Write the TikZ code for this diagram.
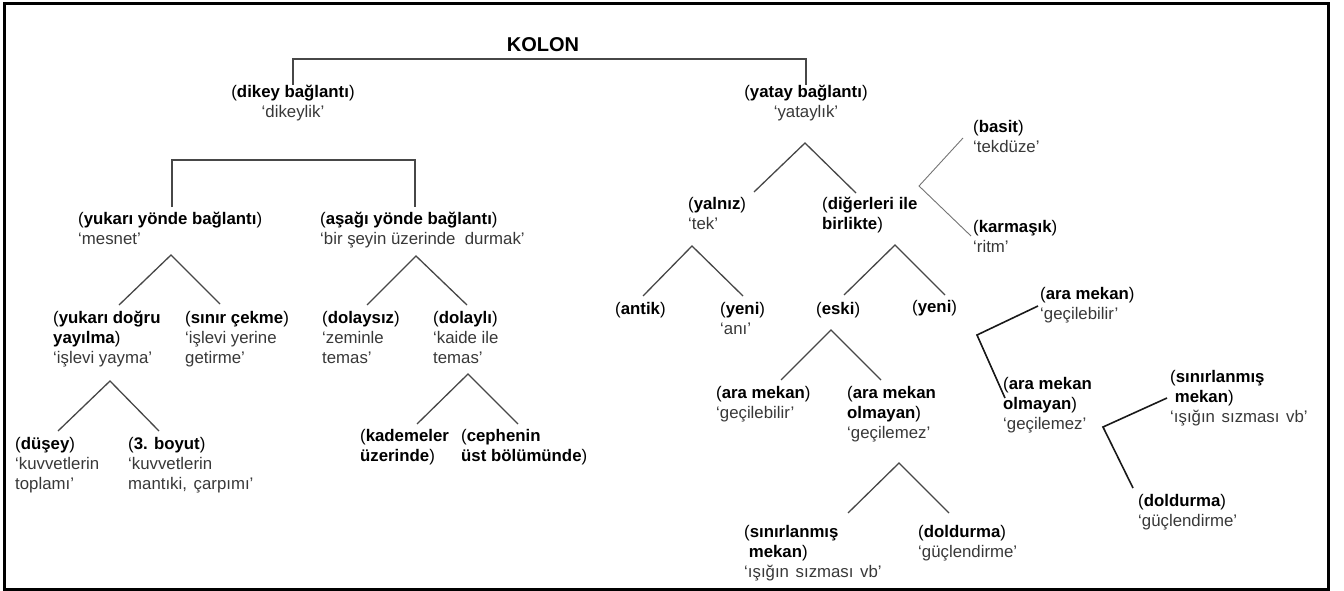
\documentclass[tikz,border=0pt]{standalone}
\usepackage{fontspec}
\setmainfont{Liberation Sans}
\newcommand{\lbltab}[1]{\begin{tabular}[t]{@{}l@{}}#1\end{tabular}}
\newcommand{\ctrtab}[1]{\begin{tabular}[t]{@{}c@{}}#1\end{tabular}}
\newcommand{\sub}[1]{{\color{black!78}#1}}
\newcommand{\wsp}{\ \kern2pt}
\tikzset{
  lbl/.style={anchor=base west, inner sep=0pt, font=\fontsize{16.8}{20}\selectfont},
  clbl/.style={anchor=base, inner sep=0pt, font=\fontsize{16.8}{20}\selectfont},
  conn/.style={draw=black!72, line width=1.3pt},
  thin/.style={draw=black!55, line width=0.9pt},
  dark/.style={draw=black!90, line width=1.6pt},
}
\begin{document}
\begin{tikzpicture}[x=1pt,y=-1pt]
\useasboundingbox (0,0) rectangle (1344,591);
\draw[line width=3pt] (4,4) rectangle (1328,589);

\node[anchor=base, inner sep=0pt, font=\fontsize{20}{24}\selectfont\bfseries] (kolon) at (543,52) {KOLON};

% top level
\node[clbl] (dikey) at (293,98) {\ctrtab{(\textbf{dikey bağlantı})\\ \sub{‘dikeylik’}}};
\node[clbl] (yatay) at (806,98) {\ctrtab{(\textbf{yatay bağlantı})\\ \sub{‘yataylık’}}};
\coordinate (b1l) at (293,59);
\coordinate (b1r) at (806,59);
\coordinate (b1ld) at (293,85);
\coordinate (b1rd) at (806,85);
\draw[conn] (b1ld) -- (b1l) -- (b1r) -- (b1rd);

% second level left
\node[lbl] (yukari) at (78,224) {\lbltab{(\textbf{yukarı yönde bağlantı})\\ \sub{‘mesnet’}}};
\node[lbl] (asagi) at (320,224) {\lbltab{(\textbf{aşağı yönde bağlantı})\\ \sub{‘bir şeyin üzerinde\ \ durmak’}}};
\coordinate (b2l) at (172,160);
\coordinate (b2r) at (415,160);
\coordinate (b2ld) at (172,207);
\coordinate (b2rd) at (415,207);
\draw[conn] (b2ld) -- (b2l) -- (b2r) -- (b2rd);

% yukari tree
\coordinate (t1a) at (171,255);
\coordinate (t1l) at (119,305);
\coordinate (t1r) at (220,304);
\draw[conn] (t1l) -- (t1a) -- (t1r);
\node[lbl] (yukdogru) at (53,323) {\lbltab{(\textbf{yukarı doğru}\\ \textbf{yayılma})\\ \sub{‘işlevi yayma’}}};
\node[lbl] (sinir) at (185,323) {\lbltab{(\textbf{sınır çekme})\\ \sub{‘işlevi yerine}\\ \sub{getirme’}}};

% asagi tree
\coordinate (t2a) at (416,256);
\coordinate (t2l) at (367,305);
\coordinate (t2r) at (467,305);
\draw[conn] (t2l) -- (t2a) -- (t2r);
\node[lbl] (dolaysiz) at (322,323) {\lbltab{(\textbf{dolaysız})\\ \sub{‘zeminle}\\ \sub{temas’}}};
\node[lbl] (dolayli) at (433,323) {\lbltab{(\textbf{dolaylı})\\ \sub{‘kaide ile}\\ \sub{temas’}}};

% yukdogru tree
\coordinate (t3a) at (110,381);
\coordinate (t3l) at (58,431);
\coordinate (t3r) at (159,431);
\draw[conn] (t3l) -- (t3a) -- (t3r);
\node[lbl] (dusey) at (15,449) {\lbltab{(\textbf{düşey})\\ \sub{‘kuvvetlerin}\\ \sub{toplamı’}}};
\node[lbl] (boyut) at (128,449) {\lbltab{(\textbf{3. boyut})\\ \sub{‘kuvvetlerin}\\ \sub{mantıki,\wsp çarpımı’}}};

% dolayli tree
\coordinate (t4a) at (468,374);
\coordinate (t4l) at (417,424);
\coordinate (t4r) at (518,424);
\draw[conn] (t4l) -- (t4a) -- (t4r);
\node[lbl] (kademe) at (360,441) {\lbltab{(\textbf{kademeler}\\ \textbf{üzerinde})}};
\node[lbl] (cephe) at (461,441) {\lbltab{(\textbf{cephenin}\\ \textbf{üst bölümünde})}};

% right side: yatay tree
\coordinate (t5a) at (805,143);
\coordinate (t5l) at (754,192);
\coordinate (t5r) at (856,193);
\draw[conn] (t5l) -- (t5a) -- (t5r);
\node[lbl] (yalniz) at (688,209) {\lbltab{(\textbf{yalnız})\\ \sub{‘tek’}}};
\node[lbl] (diger) at (822,209) {\lbltab{(\textbf{diğerleri ile}\\ \textbf{birlikte})}};

% basit bracket
\coordinate (b3t) at (963,138);
\coordinate (b3v) at (919,186);
\coordinate (b3b) at (971,236);
\draw[thin] (b3t) -- (b3v) -- (b3b);
\node[lbl] (basit) at (973,133) {\lbltab{(\textbf{basit})\\ \sub{‘tekdüze’}}};
\node[lbl] (karmasik) at (973,232) {\lbltab{(\textbf{karmaşık})\\ \sub{‘ritm’}}};

% yalniz tree
\coordinate (t6a) at (692,246);
\coordinate (t6l) at (643,296);
\coordinate (t6r) at (743,296);
\draw[conn] (t6l) -- (t6a) -- (t6r);
\node[lbl] (antik) at (615,314) {(\textbf{antik})};
\node[lbl] (yeni1) at (720,314) {\lbltab{(\textbf{yeni})\\ \sub{‘anı’}}};

% diger tree
\coordinate (t7a) at (895,245);
\coordinate (t7l) at (844,295);
\coordinate (t7r) at (945,295);
\draw[conn] (t7l) -- (t7a) -- (t7r);
\node[lbl] (eski) at (816,314) {(\textbf{eski})};
\node[lbl] (yeni2) at (912,312) {(\textbf{yeni})};

% eski tree
\coordinate (t8a) at (831,330);
\coordinate (t8l) at (781,380);
\coordinate (t8r) at (881,380);
\draw[conn] (t8l) -- (t8a) -- (t8r);
\node[lbl] (aram1) at (716,398) {\lbltab{(\textbf{ara mekan})\\ \sub{‘geçilebilir’}}};
\node[lbl] (araol1) at (847,398) {\lbltab{(\textbf{ara mekan}\\ \textbf{olmayan})\\ \sub{‘geçilemez’}}};

% araol1 tree
\coordinate (t9a) at (899,463);
\coordinate (t9l) at (848,513);
\coordinate (t9r) at (949,513);
\draw[conn] (t9l) -- (t9a) -- (t9r);
\node[lbl] (sinirli1) at (744,537) {\lbltab{(\textbf{sınırlanmış}\\ \ \textbf{mekan})\\ \sub{‘ışığın\wsp sızması\wsp vb’}}};
\node[lbl] (dold1) at (918,537) {\lbltab{(\textbf{doldurma})\\ \sub{‘güçlendirme’}}};

% yeni2 bracket
\coordinate (b4t) at (1038,306);
\coordinate (b4v) at (977,335);
\coordinate (b4b) at (1005,398);
\draw[dark] (b4t) -- (b4v) -- (b4b);
\node[lbl] (aram2) at (1040,299) {\lbltab{(\textbf{ara mekan})\\ \sub{‘geçilebilir’}}};
\node[lbl] (araol2) at (1003,389) {\lbltab{(\textbf{ara mekan}\\ \textbf{olmayan})\\ \sub{‘geçilemez’}}};

% araol2 bracket
\coordinate (b5t) at (1167,398);
\coordinate (b5v) at (1103,427);
\coordinate (b5b) at (1133,488);
\draw[dark] (b5t) -- (b5v) -- (b5b);
\node[lbl] (sinirli2) at (1170,382) {\lbltab{(\textbf{sınırlanmış}\\ \ \textbf{mekan})\\ \sub{‘ışığın\wsp sızması\wsp vb’}}};
\node[lbl] (dold2) at (1138,506) {\lbltab{(\textbf{doldurma})\\ \sub{‘güçlendirme’}}};
\end{tikzpicture}
\end{document}
